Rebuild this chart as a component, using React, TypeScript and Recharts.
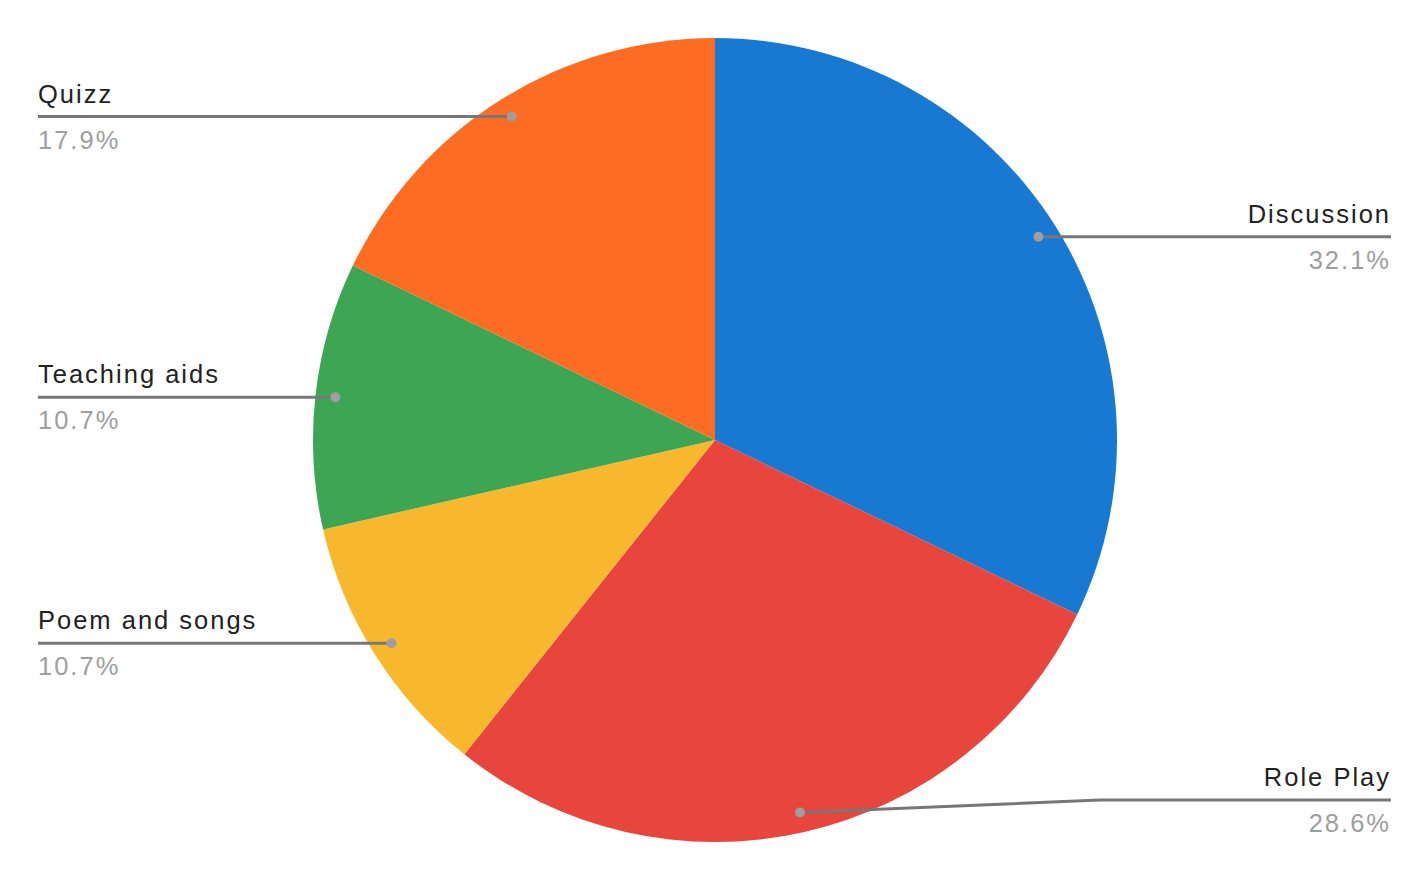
import React from "react";
import { PieChart, Pie, Cell } from "recharts";

const categories = ["Discussion", "Role Play", "Poem and songs", "Teaching aids", "Quizz"];
const counts = [9, 8, 3, 3, 5];
const colors = ["#1779D2", "#E8453C", "#F8B82E", "#3CA655", "#FC6D23"];

const data = categories.map((name, i) => ({ name, value: counts[i] }));

const RADIAN = Math.PI / 180;
// chart has recharts' default 5px margin, so the pie centre is offset by it
const CX = 702;
const CY = 427;
const RADIUS = 402;
const LEFT_X = 30;
const RIGHT_X = 1383;
const FONT = "'Liberation Sans', Arial, sans-serif";

interface LabelProps {
  cx?: number;
  cy?: number;
  midAngle?: number;
  outerRadius?: number;
  percent?: number;
  name?: string;
}

const SliceLabel = (props: LabelProps) => {
  const { cx = 0, cy = 0, midAngle = 0, outerRadius = 0, percent = 0, name = "" } = props;
  const cos = Math.cos(-midAngle * RADIAN);
  const sin = Math.sin(-midAngle * RADIAN);
  const r = outerRadius - 20;
  const px = cx + r * cos;
  const py = cy + r * sin;
  const right = cos >= 0;
  // keep the labels inside the plot; bend the leader line when clamped
  const ly = Math.min(Math.max(py, cy - 360), cy + 360);
  const endX = right ? RIGHT_X : LEFT_X;
  const bendX = right ? px + 300 : px - 300;
  const path =
    ly === py
      ? `M${px},${py}L${endX},${ly}`
      : `M${px},${py}L${bendX},${ly}L${endX},${ly}`;

  return (
    <g>
      <path d={path} stroke="#777777" strokeWidth={3} fill="none" />
      <circle cx={px} cy={py} r={5} fill="#9E9E9E" />
      <text
        x={endX}
        y={ly - 14}
        textAnchor={right ? "end" : "start"}
        fill="#222222"
        fontSize={25.5}
        letterSpacing={2}
        fontFamily={FONT}
      >
        {name}
      </text>
      <text
        x={endX}
        y={ly + 32}
        textAnchor={right ? "end" : "start"}
        fill="#9E9E9E"
        fontSize={25.5}
        letterSpacing={2}
        fontFamily={FONT}
      >
        {`${(percent * 100).toFixed(1)}%`}
      </text>
    </g>
  );
};

export default function App() {
  return (
    <PieChart width={1412} height={862}>
      <Pie
        data={data}
        dataKey="value"
        nameKey="name"
        cx={CX}
        cy={CY}
        outerRadius={RADIUS}
        startAngle={90}
        endAngle={-270}
        stroke="none"
        labelLine={false}
        label={SliceLabel as any}
        isAnimationActive={false}
      >
        {data.map((entry, index) => (
          <Cell key={`cell-${index}`} fill={colors[index]} />
        ))}
      </Pie>
    </PieChart>
  );
}
